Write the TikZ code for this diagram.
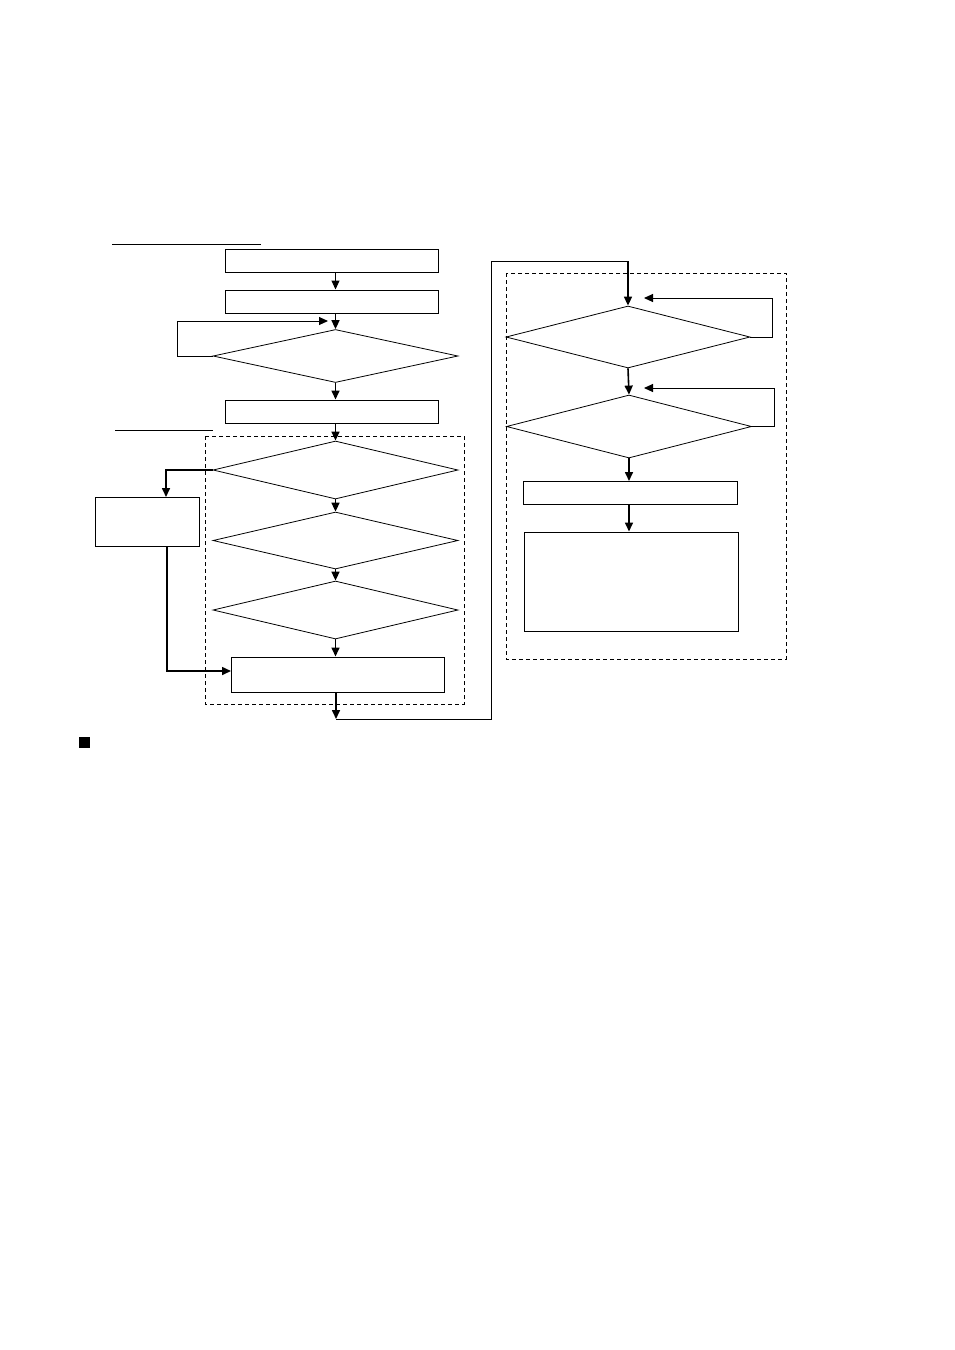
\documentclass[tikz,border=0pt]{standalone}
\usetikzlibrary{arrows.meta,shapes.geometric}

\begin{document}
\begin{tikzpicture}[
  x=1pt, y=-1pt,
  proc/.style={rectangle, draw, line width=1pt, inner sep=0pt, minimum width=213pt, minimum height=23pt},
  dec/.style={diamond, draw, line width=0.8pt, inner sep=0pt, minimum width=245pt, minimum height=57pt},
  flow/.style={draw, line width=1.6pt, -{Triangle[length=9pt,width=8pt]}},
  back/.style={draw, line width=1pt, -{Triangle[length=9pt,width=8pt]}},
  frame/.style={draw, line width=0.8pt, dash pattern=on 4pt off 3pt}
]
\useasboundingbox (0,0) rectangle (954,1350);

\node[proc] (box1) at (331.5,260.5) {};
\node[proc] (box2) at (331.5,301.5) {};
\node[dec, minimum height=53pt] (dec1) at (335.5,356) {};
\node[proc] (box3) at (331.5,411.5) {};
\node[dec, minimum height=58pt] (dec2) at (335.5,470) {};
\node[proc, minimum width=104pt, minimum height=49pt] (side) at (147,521.5) {};
\node[dec] (dec3) at (335.5,540.5) {};
\node[dec, minimum height=58pt] (dec4) at (335.5,610) {};
\node[proc, minimum height=35pt] (box5) at (337.5,674.5) {};

\node[dec, minimum width=244pt, minimum height=62pt] (dec5) at (628,337) {};
\node[dec, minimum height=63pt] (dec6) at (629,426.5) {};
\node[proc, minimum width=214pt] (box6) at (630,493) {};
\node[proc, minimum width=214pt, minimum height=99pt] (box7) at (631,581.5) {};

\coordinate (in1) at (328,321);
\coordinate (sidein) at (166,497);
\coordinate (sideout) at (167,546);
\coordinate (b5in) at (231,671);
\coordinate (out) at (336,719);
\coordinate (up) at (491,261);
\coordinate (in5) at (644,298);
\coordinate (in6) at (644,388);

\draw[line width=1pt] (112,244) -- (261,244);
\draw[line width=1pt] (115,430) -- (213,430);
\draw[frame] (205,436) rectangle (464,704);
\draw[frame] (506,273) rectangle (786,659);
\fill (79,737) rectangle (90,748);

\draw[flow, line width=1pt] (box1.south -| dec1.north) -- (box2.north -| dec1.north);
\draw[flow] (box2.south -| dec1.north) -- (dec1.north);
\draw[back] (dec1.west) -- ++(-35,0) |- (in1);
\draw[flow] (dec1.south) -- (box3.north -| dec1.south);
\draw[flow] (box3.south -| dec2.north) -- (dec2.north);
\draw[flow] (dec2.west) -| (sidein);
\draw[flow] (dec2.south) -- (dec3.north);
\draw[flow] (dec3.south) -- (dec4.north);
\draw[flow] (dec4.south) -- (box5.north -| dec4.south);
\draw[flow] (sideout) |- (b5in);
\draw[flow] (box5.south -| out) -- (out);
\draw[line width=1pt] (out) -| (up) -- (up -| dec5.north);
\draw[flow] (up -| dec5.north) -- (dec5.north);

\draw[back] (dec5.east) -- ++(22,0) |- (in5);
\draw[flow] (dec5.south) -- (dec6.north);
\draw[back] (dec6.east) -- ++(23,0) |- (in6);
\draw[flow] (dec6.south) -- (box6.north -| dec6.south);
\draw[flow] (box6.south -| dec6.south) -- (box7.north -| dec6.south);
\end{tikzpicture}
\end{document}
